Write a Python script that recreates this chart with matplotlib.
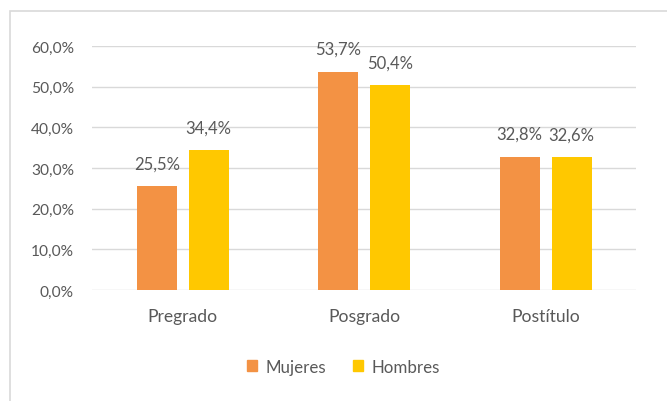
import numpy as np
from matplotlib import pyplot as plt
from matplotlib import patches as mpatches
from matplotlib.ticker import FuncFormatter

categories = ['Pregrado', 'Posgrado', 'Postítulo']
mujeres = [25.5, 53.7, 32.8]
hombres = [34.4, 50.4, 32.6]
series_names = ['Mujeres', 'Hombres']

ORANGE = '#F39244'
YELLOW = '#FFC800'
TEXT = '#595959'
GRID = '#D9D9D9'

plt.rcParams['font.family'] = ['Lato', 'DejaVu Sans']

fig = plt.figure(figsize=(6.67, 4.02), dpi=100)
ax = fig.add_axes([0.138, 0.276, 0.816, 0.607])

x = np.arange(len(categories))
width = 0.22
offset = 0.143

bars_m = ax.bar(x - offset, mujeres, width, color=ORANGE, label=series_names[0], zorder=3)
bars_h = ax.bar(x + offset, hombres, width, color=YELLOW, label=series_names[1], zorder=3)

for bars in (bars_m, bars_h):
    for b in bars:
        v = b.get_height()
        ax.annotate(f'{v:.1f}%'.replace('.', ','),
                    (b.get_x() + b.get_width() / 2, v),
                    xytext=(0, 10.5), textcoords='offset points',
                    ha='center', va='bottom', fontsize=12, color=TEXT)

ax.set_xlim(-0.5, len(categories) - 0.5)
ax.set_ylim(0, 60)
ax.set_yticks(np.arange(0, 61, 10))
ax.yaxis.set_major_formatter(FuncFormatter(lambda v, p: f'{v:.1f}%'.replace('.', ',')))
ax.set_xticks(x)
ax.set_xticklabels(categories)
ax.tick_params(axis='y', length=0, labelsize=11.2, labelcolor=TEXT, pad=13)
ax.tick_params(axis='x', length=0, labelsize=12.6, labelcolor=TEXT, pad=13)
ax.grid(axis='y', color=GRID, linewidth=1, zorder=0)
for s in ax.spines.values():
    s.set_visible(False)

handles = [mpatches.Patch(color=ORANGE, label=series_names[0]),
           mpatches.Patch(color=YELLOW, label=series_names[1])]
fig.legend(handles=handles, loc='center', bbox_to_anchor=(0.515, 0.085), ncol=2,
           frameon=False, fontsize=12.2, labelcolor=TEXT, handlelength=0.6,
           handleheight=0.6, handletextpad=0.5, columnspacing=1.6)

# chart area border (top and left edges visible)
fig.add_artist(mpatches.Rectangle((10 / 667, -0.1), 1.2, 1.1 - 12 / 402,
                                  transform=fig.transFigure, fill=False,
                                  edgecolor=GRID, linewidth=1.2))

fig.savefig('out.png', dpi=100)
